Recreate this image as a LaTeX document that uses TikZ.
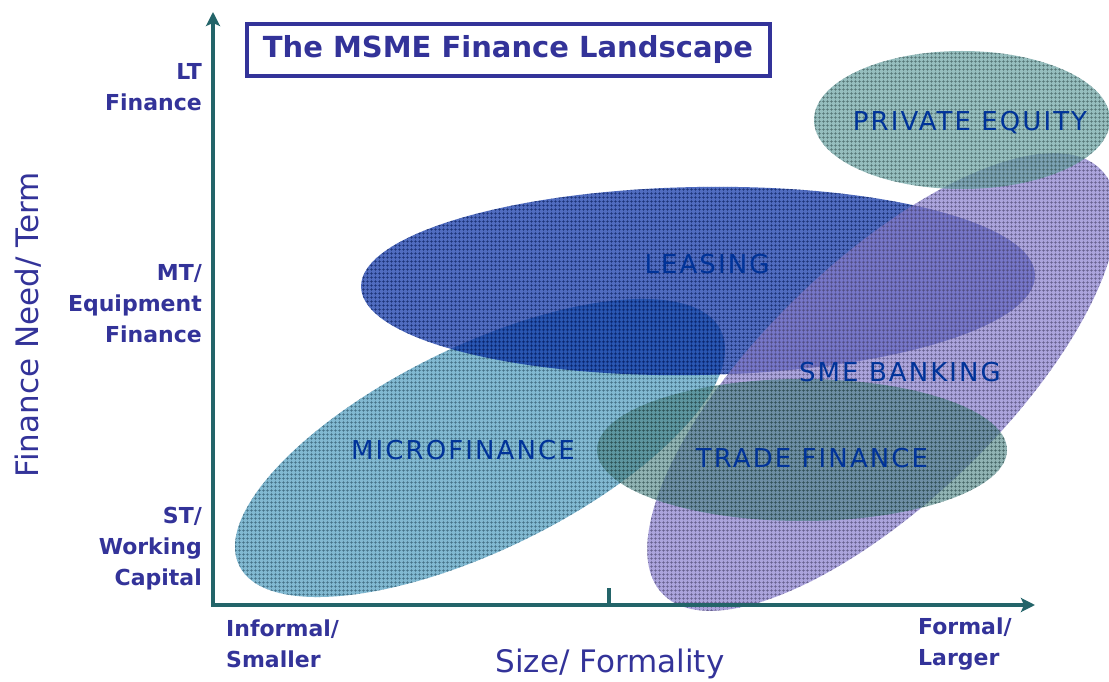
\documentclass[tikz,border=0pt]{standalone}
\usepackage{fontspec}
\setmainfont{DejaVu Sans}
\newfontfamily\zonefont[LetterSpace=8]{DejaVu Sans}
\usetikzlibrary{arrows.meta,patterns.meta}

\definecolor{axisteal}{RGB}{35,100,105}
\definecolor{titleblue}{RGB}{51,51,153}
\definecolor{zonetext}{RGB}{0,51,153}
\definecolor{mfblue}{RGB}{76,155,190}
\definecolor{leasblue}{RGB}{5,45,165}
\definecolor{smepurple}{RGB}{135,125,205}
\definecolor{tradeteal}{RGB}{70,128,128}
\definecolor{peteal}{RGB}{105,162,162}

\begin{document}
\begin{tikzpicture}[x=1pt,y=1pt,
	axis/.style={line width=4pt, draw=axisteal},
	zone/.style={fill=#1, fill opacity=0.7,
		postaction={pattern={Hatch[distance=4pt,line width=0.75pt]}, pattern color=#1!50!black, fill opacity=0.7}},
	zonelabel/.style={text=zonetext, font=\zonefont\fontsize{26}{30}\selectfont},
	scalelabel/.style={text=titleblue, font=\bfseries\fontsize{22}{31}\selectfont, inner sep=0pt},
	axistitle/.style={text=titleblue, font=\fontsize{31}{36}\selectfont, inner sep=0pt}]
	\useasboundingbox (0,0) rectangle (1109,681);

	% the five markets
	\coordinate (mf) at (480,233);
	\coordinate (leas) at (698,400);
	\coordinate (sme) at (882,299);
	\coordinate (trade) at (802,231);
	\coordinate (pe) at (962,561);
	\path[zone=mfblue, rotate around={26:(mf)}] (mf) ellipse [x radius=268, y radius=102];
	\path[zone=leasblue, rotate around={1:(leas)}] (leas) ellipse [x radius=337, y radius=94];
	\path[zone=smepurple, rotate around={44:(sme)}] (sme) ellipse [x radius=305, y radius=120];
	\path[zone=tradeteal, fill opacity=0.6] (trade) ellipse [x radius=205, y radius=71];
	\path[zone=peteal] (pe) ellipse [x radius=148, y radius=69];

	\node[zonelabel] (mflabel) at (463,231) {MICROFINANCE};
	\node[zonelabel] (leaslabel) at (707,417) {LEASING};
	\node[zonelabel] (smelabel) at (900,309) {SME BANKING};
	\node[zonelabel] (tradelabel) at (812,223) {TRADE FINANCE};
	\node[zonelabel] (pelabel) at (970,558) {PRIVATE EQUITY};

	% axes
	\coordinate (origin) at (213,76);
	\coordinate (ytop) at (213,669);
	\coordinate (xend) at (1035,76);
	\coordinate (mid) at (609,76);
	\coordinate (midtop) at (609,93);
	\draw[axis, {Stealth[length=14pt,width=14pt,inset=3pt]}-{Stealth[length=14pt,width=14pt,inset=3pt]}]
		(ytop) -- (origin) -- (xend);
	\draw[axis] (mid) -- (midtop);

	\node[scalelabel, align=right, anchor=east] (lt) at (202,594) {LT\\Finance};
	\node[scalelabel, align=right, anchor=east] (mt) at (202,377) {MT/\\Equipment\\Finance};
	\node[scalelabel, align=right, anchor=east] (st) at (202,132) {ST/\\Working\\Capital};
	\node[scalelabel, align=left, anchor=west] (informal) at (226,37) {Informal/\\Smaller};
	\node[scalelabel, align=left, anchor=west] (formal) at (918,37) {Formal/\\Larger};

	\node[axistitle, anchor=base] (xtitle) at (610,9) {Size/ Formality};
	\node[axistitle, rotate=90] (ytitle) at (28,356) {Finance Need/ Term};

	\node[draw=titleblue, line width=4pt, text=titleblue, font=\bfseries\fontsize{29}{34}\selectfont,
		minimum width=523pt, minimum height=52pt, inner sep=0pt] (title) at (508,631) {The MSME Finance Landscape};
\end{tikzpicture}
\end{document}
